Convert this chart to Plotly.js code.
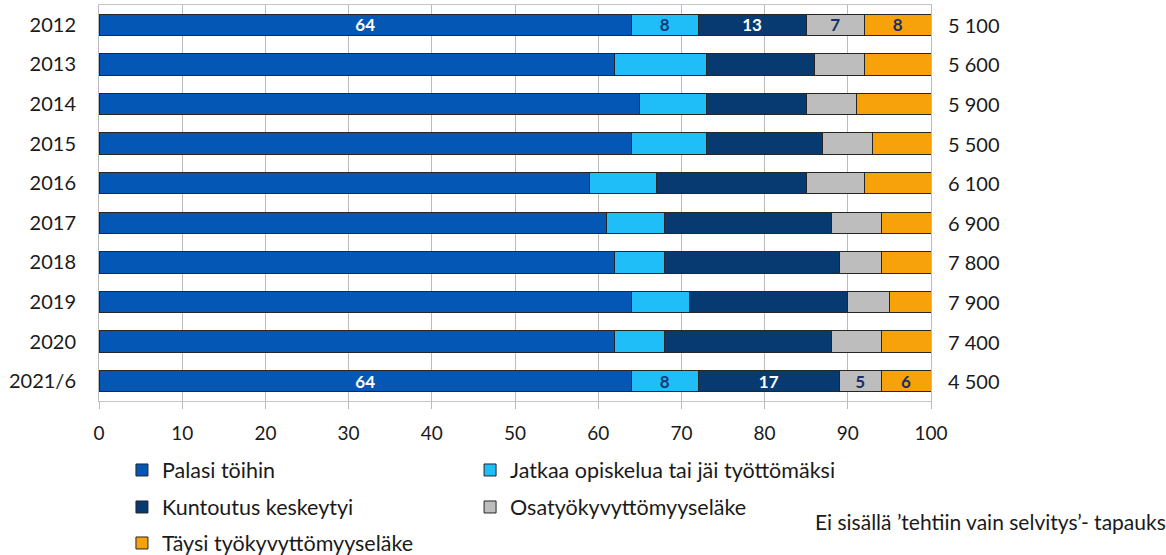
<!DOCTYPE html>
<html>
<head>
<meta charset="utf-8">
<script src="https://cdn.plot.ly/plotly-3.0.1.min.js"></script>
<style>html,body{margin:0;padding:0;background:#fff;}#chart{width:1166px;height:555px;}</style>
</head>
<body>
<div id="chart"></div>
<script>
const years = ['2012','2013','2014','2015','2016','2017','2018','2019','2020','2021/6'];
const palasiToihin = [64,62,65,64,59,61,62,64,62,64];
const jatkaaOpiskelua = [8,11,8,9,8,7,6,7,6,8];
const kuntoutusKeskeytyi = [13,13,12,14,18,20,21,19,20,17];
const osatyokyvyttomyyselake = [7,6,6,6,7,6,5,5,6,5];
const taysiTyokyvyttomyyselake = [8,8,9,7,8,6,6,5,6,6];
const totals = [5100,5600,5900,5500,6100,6900,7800,7900,7400,4500];
const seriesNames = ['Palasi töihin','Jatkaa opiskelua tai jäi työttömäksi','Kuntoutus keskeytyi','Osatyökyvyttömyyseläke','Täysi työkyvyttömyyseläke'];
const labelledRows = ['2012','2021/6'];
const noteText = 'Ei sisällä ’tehtiin vain selvitys’- tapauksia';

const FONT = 'Lato, "Open Sans", "Liberation Sans", sans-serif';
const colors = ['#0457B5','#1FBEF8','#063A71','#BDBDBD','#F7A20B'];
const labelColors = ['#FFFFFF','#123A78','#FFFFFF','#1A2F66','#1A2F66'];
const legendIds = ['legend','legend2','legend3','legend4','legend5'];
const allSeries = [palasiToihin,jatkaaOpiskelua,kuntoutusKeskeytyi,osatyokyvyttomyyselake,taysiTyokyvyttomyyselake];
// row positions on the y axis (one per year label)
const rowPos = years.map((_,i)=>i);

const traces = allSeries.map((vals,k)=>({
  type:'bar', orientation:'h', name:seriesNames[k],
  y:rowPos, x:vals,
  text: vals.map((v,i)=> labelledRows.includes(years[i]) ? String(v) : ''),
  textposition:'inside', insidetextanchor:'middle', textangle:0, constraintext:'none',
  textfont:{family:FONT, size:17, color:labelColors[k], weight:'bold'},
  marker:{color:colors[k], line:{color:'#262626', width:1}},
  legend: legendIds[k],
  hoverinfo:'skip'
}));

function fmt(n){ return String(n).replace(/\B(?=(\d{3})+(?!\d))/g,' '); }

const annotations = totals.map((t,i)=>({
  x:1, xref:'paper', y:rowPos[i], yref:'y', xanchor:'left', yanchor:'middle',
  xshift:15, text:fmt(t), showarrow:false,
  font:{family:FONT, size:20, color:'#1a1a1a'}
}));
annotations.push({
  x:(813-99)/832, xref:'paper', y:(401-521)/396, yref:'paper',
  xanchor:'left', yanchor:'middle', text:noteText, showarrow:false,
  font:{family:FONT, size:21, color:'#1a1a1a'}
});

const legendBase = {orientation:'h', xanchor:'left', yanchor:'middle',
  yref:'container', itemwidth:30, font:{family:FONT, size:21.5, color:'#1a1a1a'},
  bgcolor:'rgba(0,0,0,0)'};
const col1 = 0.0276, col2 = 0.446;
const row1 = (555-470)/555, row2 = (555-507)/555, row3 = (555-543)/555;

const layout = {
  width:1166, height:555,
  margin:{l:99, r:235, t:5, b:154, autoexpand:false},
  paper_bgcolor:'#fff', plot_bgcolor:'#fff',
  barmode:'stack', bargap:0.457,
  font:{family:FONT, color:'#1a1a1a'},
  showlegend:true,
  legend: Object.assign({}, legendBase, {x:col1, y:row1}),
  legend2: Object.assign({}, legendBase, {x:col2, y:row1}),
  legend3: Object.assign({}, legendBase, {x:col1, y:row2}),
  legend4: Object.assign({}, legendBase, {x:col2, y:row2}),
  legend5: Object.assign({}, legendBase, {x:col1, y:row3}),
  xaxis:{type:'linear', range:[0,100], dtick:10, tick0:0, showgrid:true, gridcolor:'#BBBBBB', gridwidth:1,
    zeroline:false, showline:true, linecolor:'#C4C4C4', linewidth:1, mirror:true,
    ticks:'outside', ticklen:7, tickcolor:'#BBBBBB', tickwidth:1, ticklabelstandoff:8,
    tickfont:{family:FONT, size:19, color:'#1a1a1a'}},
  yaxis:{type:'linear', range:[years.length-0.5,-0.5], tickmode:'array', tickvals:rowPos, ticktext:years,
    showgrid:false, zeroline:false,
    showline:true, linecolor:'#BBBBBB', linewidth:1, mirror:true,
    ticks:'outside', ticklen:18, tickcolor:'rgba(0,0,0,0)',
    tickfont:{family:FONT, size:20, color:'#1a1a1a'}},
  annotations: annotations
};

Plotly.newPlot('chart', traces, layout, {displayModeBar:false, staticPlot:true});
</script>
</body>
</html>
